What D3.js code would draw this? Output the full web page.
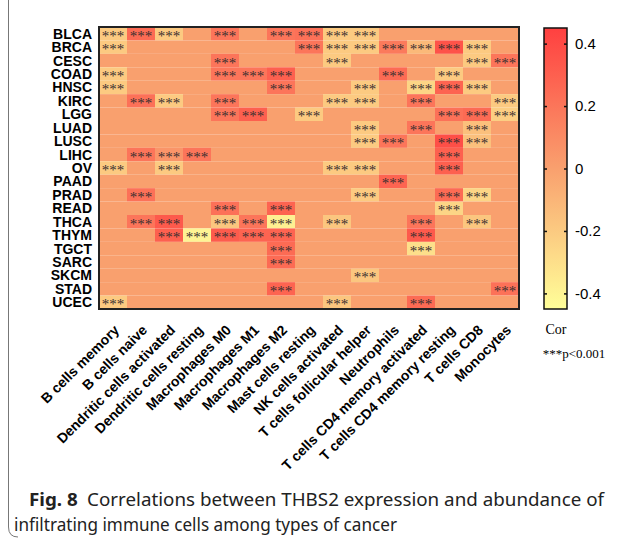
<!DOCTYPE html>
<html>
<head>
<meta charset="utf-8">
<script src="https://cdn.jsdelivr.net/npm/d3@7"></script>
<style>
  body { margin: 0; background: #fff; }
  svg { display: block; }
</style>
</head>
<body>
<svg id="chart" width="630" height="538"></svg>
<script>
// cancer types (rows) and immune cell types (columns)
const cancers = ["BLCA", "BRCA", "CESC", "COAD", "HNSC", "KIRC", "LGG", "LUAD", "LUSC", "LIHC",
    "OV", "PAAD", "PRAD", "READ", "THCA", "THYM", "TGCT", "SARC", "SKCM", "STAD", "UCEC"];

const cells = ["B cells memory", "B cells naive", "Dendritic cells activated", "Dendritic cells resting",
    "Macrophages M0", "Macrophages M1", "Macrophages M2", "Mast cells resting", "NK cells activated",
    "T cells follicular helper", "Neutrophils", "T cells CD4 memory activated",
    "T cells CD4 memory resting", "T cells CD8", "Monocytes"];

// correlation per cancer (row) x cell (column); 0 = not significant
const corValues = [
    [-0.2, 0.25, -0.2, 0, 0.2, 0, 0.2, 0.22, -0.2, -0.2, 0, 0, 0, 0, 0],
    [-0.2, 0, 0, 0, 0, 0, 0, 0.2, -0.2, -0.2, 0.18, -0.12, 0.36, -0.2, 0],
    [0, 0, 0, 0, 0.2, 0, 0, 0, -0.2, 0, 0, 0, 0, -0.2, 0.2],
    [-0.2, 0, 0, 0, 0.2, 0.2, 0.3, 0, 0, 0, 0.25, 0, -0.2, 0, 0],
    [-0.2, 0, 0, 0, 0, 0, 0.2, 0, 0, -0.2, 0, -0.25, 0.28, -0.2, 0],
    [0, 0.22, -0.2, 0, 0.2, 0, 0, 0, -0.2, -0.2, 0, 0.2, 0, 0, -0.2],
    [0, 0, 0, 0, 0.2, 0.3, 0, -0.2, 0, 0, 0, 0, 0.22, 0.25, -0.22],
    [0, 0, 0, 0, 0, 0, 0, 0, 0, -0.2, 0, 0.2, 0, -0.15, 0],
    [0, 0, 0, 0, 0, 0, 0, 0, 0, -0.2, 0.2, 0, 0.38, -0.15, 0],
    [0, 0.2, 0.05, 0.2, 0, 0, 0, 0, 0, 0, 0, 0, 0.3, 0, 0],
    [-0.2, 0, -0.2, 0, 0, 0, 0, 0, -0.2, -0.2, 0, 0, 0.3, 0, 0],
    [0, 0, 0, 0, 0, 0, 0, 0, 0, 0, 0.28, 0, 0, 0, 0],
    [0, 0.22, 0, 0, 0, 0, 0, 0, 0, -0.2, 0, 0, 0.25, -0.25, 0],
    [0, 0, 0, 0, 0.22, 0, 0.28, 0, 0, 0, 0, 0, -0.25, 0, 0],
    [0, 0.2, 0.33, 0, -0.18, 0.2, -0.38, 0, -0.18, 0, 0, 0.2, 0, -0.18, 0],
    [0, 0, 0.3, -0.4, 0.32, 0.28, 0.28, 0, 0, 0, 0, 0.33, 0, 0, 0],
    [0, 0, 0, 0, 0, 0, 0.25, 0, 0, 0, 0, -0.3, 0, 0, 0],
    [0, 0, 0, 0, 0, 0, 0.25, 0, 0, 0, 0, 0, 0, 0, 0],
    [0, 0, 0, 0, 0, 0, 0, 0, 0, -0.18, 0, 0, 0, 0, 0],
    [0, 0, 0, 0, 0, 0, 0.28, 0, 0, 0, 0, 0, 0, 0, 0.22],
    [-0.2, 0, 0, 0, 0, 0, 0, 0, -0.18, 0, 0, 0.25, 0, 0, 0]
];

const legendTicks = [0.4, 0.2, 0, -0.2, -0.4];
const legendDomain = [-0.45, 0.45];

const svg = d3.select("#chart");

const color = d3.scaleLinear()
    .domain([-0.45, 0, 0.45])
    .range(["#FFFF99", "#F9A06E", "#FF4040"]);

const x = d3.scaleBand().domain(cells).range([99, 519]);
const y = d3.scaleBand().domain(cancers).range([27, 309]);

// flatten matrix into cell records
let tiles = [];
corValues.forEach((row, i) => {
    row.forEach((v, j) => {
        tiles.push({ cancer: cancers[i], cell: cells[j], value: v });
    });
});

// heatmap tiles
svg.append("g")
    .selectAll("rect")
    .data(tiles)
    .enter().append("rect")
    .attr("x", d => x(d.cell))
    .attr("y", d => y(d.cancer))
    .attr("width", x.bandwidth())
    .attr("height", y.bandwidth())
    .attr("fill", d => color(d.value));

// significance stars
svg.append("g")
    .selectAll("text")
    .data(tiles.filter(d => d.value !== 0))
    .enter().append("text")
    .attr("x", d => x(d.cell) + x.bandwidth() / 2)
    .attr("y", d => y(d.cancer) + y.bandwidth() / 2 + 7)
    .attr("text-anchor", "middle")
    .style("font", "15px 'Liberation Serif', 'Times New Roman', serif")
    .style("fill", "#3a3030")
    .text("***");

// frame
svg.append("rect")
    .attr("x", 99).attr("y", 27)
    .attr("width", 420).attr("height", 282)
    .attr("fill", "none")
    .attr("stroke", "#222")
    .attr("stroke-width", 2);

// row labels
const yAxis = svg.append("g")
    .attr("transform", "translate(99,0)")
    .call(d3.axisLeft(y).tickSize(0).tickPadding(7));
yAxis.select(".domain").remove();
yAxis.selectAll("text")
    .attr("dy", "0.36em")
    .style("font", "bold 14px 'Liberation Sans', Arial, sans-serif")
    .style("fill", "#000");

// column labels
const xAxis = svg.append("g")
    .attr("transform", "translate(0,309)")
    .call(d3.axisBottom(x).tickSize(0).tickPadding(0));
xAxis.select(".domain").remove();
xAxis.selectAll("text")
    .attr("y", 0).attr("dy", 0)
    .attr("text-anchor", "end")
    .attr("transform", "translate(7,22) rotate(-45)")
    .style("font", "bold 14px 'Liberation Sans', Arial, sans-serif")
    .style("fill", "#000");

// colour legend
const ly = d3.scaleLinear().domain(legendDomain).range([309, 28]);
const grad = svg.append("defs").append("linearGradient")
    .attr("id", "corGrad")
    .attr("x1", 0).attr("y1", 1).attr("x2", 0).attr("y2", 0);
d3.range(0, 1.0001, 0.1).forEach(t => {
    grad.append("stop")
        .attr("offset", t)
        .attr("stop-color", color(legendDomain[0] + t * (legendDomain[1] - legendDomain[0])));
});
svg.append("rect")
    .attr("x", 544).attr("y", 28)
    .attr("width", 23).attr("height", 281)
    .attr("fill", "url(#corGrad)")
    .attr("stroke", "#111")
    .attr("stroke-width", 1.5);

const rightAxis = svg.append("g")
    .attr("transform", "translate(567,0)")
    .call(d3.axisRight(ly).tickValues(legendTicks).tickSizeInner(-3).tickSizeOuter(0).tickPadding(8)
        .tickFormat(d => d === 0 ? "0" : d.toFixed(1)));
rightAxis.select(".domain").remove();
rightAxis.selectAll("line").attr("stroke", "#111").attr("stroke-width", 1.5);
rightAxis.selectAll("text")
    .style("font", "15px 'Liberation Sans', Arial, sans-serif")
    .style("fill", "#000");

const leftAxis = svg.append("g")
    .attr("transform", "translate(544,0)")
    .call(d3.axisLeft(ly).tickValues(legendTicks).tickSizeInner(-3).tickSizeOuter(0).tickFormat(""));
leftAxis.select(".domain").remove();
leftAxis.selectAll("line").attr("stroke", "#111").attr("stroke-width", 1.5);

svg.append("text")
    .attr("x", 556).attr("y", 334)
    .attr("text-anchor", "middle")
    .style("font", "14px 'Liberation Serif', 'Times New Roman', serif")
    .text("Cor");
svg.append("text")
    .attr("x", 574).attr("y", 358)
    .attr("text-anchor", "middle")
    .style("font", "13px 'Liberation Serif', 'Times New Roman', serif")
    .text("***p<0.001");

// caption box edge
svg.append("path")
    .attr("d", "M8.5,0 V527 Q8.5,537 18,537")
    .attr("fill", "none")
    .attr("stroke", "#777")
    .attr("stroke-width", 1);

const cap = svg.append("g")
    .style("font-family", "'Noto Sans', 'Open Sans', sans-serif")
    .style("font-size", "18px")
    .style("fill", "#222");
const line1 = cap.append("text").attr("x", 29).attr("y", 506)
    .attr("textLength", 575).attr("lengthAdjust", "spacingAndGlyphs");
line1.append("tspan").style("font-weight", "bold").text("Fig. 8");
line1.append("tspan").text("\u2002Correlations between THBS2 expression and abundance of");
cap.append("text").attr("x", 14).attr("y", 531)
    .attr("textLength", 383).attr("lengthAdjust", "spacingAndGlyphs")
    .text("infiltrating immune cells among types of cancer");
</script>
</body>
</html>
